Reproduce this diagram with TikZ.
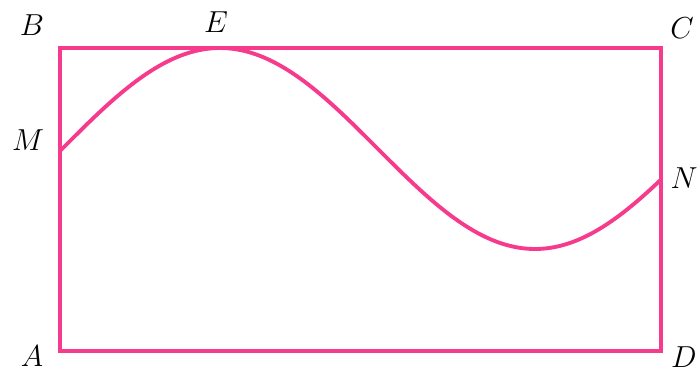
\documentclass[tikz,border=0pt]{standalone}
\usepackage{xcolor}
\usetikzlibrary{positioning}
\definecolor{edgepink}{RGB}{246,58,140}

\begin{document}
\begin{tikzpicture}[
  edge/.style={draw=edgepink, line width=2.2pt, line join=miter},
  lbl/.style={font=\LARGE, inner sep=0pt}
]
\useasboundingbox (0,0) rectangle (13.96,7.5);
% corners and points on the sides
\coordinate (A) at (1.2,0.48);
\coordinate (B) at (1.2,6.54);
\coordinate (C) at (13.22,6.54);
\coordinate (D) at (13.22,0.48);
\coordinate (M) at (1.2,4.5);
\coordinate (N) at (13.22,3.9);
\coordinate (E) at (4.4,6.54);
% labels
\node[lbl] (lA) at (0.64,0.38) {$A$};
\node[lbl] (lB) at (0.64,7.0) {$B$};
\node[lbl] (lC) at (13.64,6.94) {$C$};
\node[lbl] (lD) at (13.68,0.36) {$D$};
\node[lbl] (lE) at (4.32,7.06) {$E$};
\node[lbl] (lM) at (0.56,4.7) {$M$};
\node[lbl] (lN) at (13.68,3.94) {$N$};
% frame
\draw[edge] (A) -- (B) -- (C) -- (D) -- cycle;
% wave from M through E to N
\draw[edge, line cap=round] plot[domain=1.2:13.22, samples=120, smooth]
  (\x, {4.53+2.01*cos(180*(\x-4.4)/6.3)});
\end{tikzpicture}
\end{document}
